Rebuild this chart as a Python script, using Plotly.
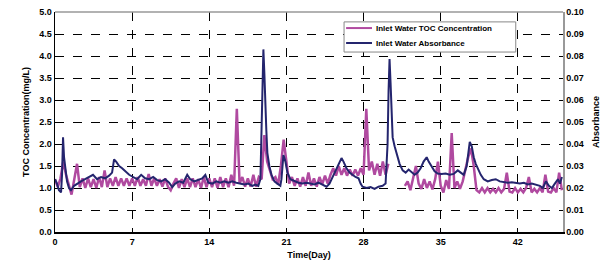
import plotly.graph_objects as go

# ---- Data ----
# Inlet water TOC concentration (mg/L), sampled every 0.25 day
toc_step_days = 0.25
toc_values = [
    1.20, 1.02, 1.22, 1.60,  1.30, 1.05, 0.85, 1.20,
    1.55, 1.02, 1.22, 1.00,  1.22, 1.02, 1.20, 1.00,
    1.25, 1.02, 1.40, 1.02,  1.22, 1.05, 1.25, 1.05,
    1.22, 1.05, 1.22, 1.05,  1.22, 1.05, 1.25, 1.05,
    1.20, 1.05, 1.32, 1.05,  1.22, 1.05, 1.20, 1.03,
    1.22, 1.03, 0.95, 1.10,  1.22, 1.00, 1.20, 1.02,
    1.22, 1.02, 1.22, 1.02,  1.20, 1.00, 1.25, 1.02,
    1.22, 1.02, 1.22, 1.00,  1.25, 1.02, 1.22, 1.02,
    1.30, 1.05, 2.80, 1.10,  1.25, 1.03, 1.22, 1.03,
    1.30, 1.03, 1.25, 1.20,  2.20, 1.60, 1.40, 1.20,
    1.25, 1.08, 1.50, 2.10,  1.60, 1.10, 1.25, 1.05,
    1.22, 1.03, 1.25, 1.05,  1.35, 1.05, 1.22, 1.03,
    1.25, 1.08, 1.28, 1.10,  1.30, 1.45, 1.28, 1.50,
    1.30, 1.45, 1.28, 1.42,  1.28, 1.42, 1.28, 1.45,
    1.30, 2.80, 1.40, 1.60,  1.30, 1.55, 1.28, 1.60,
    1.30, 1.55, None, None,  None, None, None, 1.05,
    1.15, 0.95, 1.20, 1.50,  1.10, 0.98, 1.20, 1.00,
    1.15, 0.97, 1.20, 1.60,  1.05, 0.90, 1.18, 0.98,
    2.25, 1.00, 1.15, 0.98,  1.15, 1.45, 1.70, 1.90,
    1.50, 0.95, 0.90, 1.00,  0.90, 1.00, 0.90, 0.98,
    0.90, 1.00, 0.90, 0.98,  1.35, 0.92, 0.90, 1.00,
    0.90, 0.98, 0.90, 1.00,  1.25, 0.90, 0.98, 0.90,
    1.00, 0.90, 1.30, 0.92,  0.90, 1.00, 0.90, 1.35,
    0.95,
]
toc_days = [i * toc_step_days for i in range(len(toc_values))]

# Inlet water absorbance
abs_days = [
    0.00, 0.18, 0.36, 0.55, 0.64, 0.73, 0.82, 0.91, 1.00, 1.09,
    1.27, 1.45, 1.73, 2.00, 2.36, 2.73, 3.09, 3.45, 3.82, 4.18,
    4.55, 4.91, 5.18, 5.36, 5.55, 5.82, 6.09, 6.36, 6.73, 7.09,
    7.45, 7.82, 8.18, 8.55, 8.91, 9.27, 9.64, 10.00, 10.36, 10.64,
    10.91, 11.27, 11.64, 12.00, 12.27, 12.64, 13.00, 13.36, 13.64, 13.91,
    14.27, 14.64, 15.00, 15.36, 15.73, 16.09, 16.45, 16.82, 17.18, 17.55,
    17.91, 18.18, 18.45, 18.64, 18.73, 18.82, 18.91, 19.00, 19.09, 19.18,
    19.27, 19.45, 19.64, 19.91, 20.18, 20.45, 20.55, 20.64, 20.73, 20.91,
    21.09, 21.36, 21.73, 22.09, 22.45, 22.82, 23.18, 23.55, 23.91, 24.27,
    24.64, 24.91, 25.18, 25.45, 25.73, 26.00, 26.18, 26.45, 26.73, 27.00,
    27.27, 27.55, 27.73, 27.91, 28.27, 28.64, 29.00, 29.36, 29.73, 30.00,
    30.18, 30.27, 30.36, 30.45, 30.55, 30.64, 30.82, 31.00, 31.27, 31.55,
    31.82, 32.09, 32.36, 32.64, 32.91, 33.18, 33.45, 33.73, 33.91, 34.27,
    34.45, 34.73, 35.09, 35.45, 35.82, 36.18, 36.55, 36.82, 37.09, 37.36,
    37.55, 37.64, 37.82, 38.00, 38.18, 38.36, 38.64, 38.91, 39.27, 39.64,
    40.00, 40.36, 40.73, 41.09, 41.45, 41.82, 42.18, 42.55, 42.91, 43.27,
    43.64, 44.00, 44.27, 44.55, 44.82, 45.09, 45.36, 45.64, 45.82, 46.00,
]
abs_values = [
    0.0240, 0.0220, 0.0190, 0.0180, 0.0260, 0.0430, 0.0340, 0.0300, 0.0260, 0.0230,
    0.0200, 0.0190, 0.0210, 0.0220, 0.0230, 0.0240, 0.0250, 0.0260, 0.0240, 0.0250,
    0.0244, 0.0256, 0.0270, 0.0330, 0.0320, 0.0300, 0.0290, 0.0276, 0.0260, 0.0250,
    0.0240, 0.0260, 0.0244, 0.0240, 0.0250, 0.0236, 0.0230, 0.0240, 0.0224, 0.0204,
    0.0220, 0.0230, 0.0224, 0.0260, 0.0240, 0.0230, 0.0236, 0.0244, 0.0260, 0.0224,
    0.0220, 0.0230, 0.0224, 0.0230, 0.0224, 0.0230, 0.0224, 0.0220, 0.0216, 0.0220,
    0.0210, 0.0216, 0.0210, 0.0240, 0.0400, 0.0600, 0.0830, 0.0720, 0.0560, 0.0460,
    0.0360, 0.0300, 0.0260, 0.0230, 0.0220, 0.0210, 0.0240, 0.0300, 0.0350, 0.0320,
    0.0270, 0.0240, 0.0230, 0.0224, 0.0220, 0.0224, 0.0220, 0.0216, 0.0224, 0.0216,
    0.0206, 0.0220, 0.0250, 0.0280, 0.0310, 0.0336, 0.0320, 0.0290, 0.0270, 0.0260,
    0.0250, 0.0244, 0.0220, 0.0206, 0.0200, 0.0204, 0.0196, 0.0206, 0.0210, 0.0220,
    0.0400, 0.0640, 0.0786, 0.0680, 0.0520, 0.0430, 0.0390, 0.0360, 0.0310, 0.0280,
    0.0270, 0.0284, 0.0270, 0.0260, 0.0270, 0.0290, 0.0320, 0.0340, 0.0320, 0.0290,
    0.0276, 0.0266, 0.0264, 0.0266, 0.0260, 0.0264, 0.0280, 0.0270, 0.0260, 0.0300,
    0.0360, 0.0410, 0.0390, 0.0340, 0.0310, 0.0290, 0.0260, 0.0240, 0.0230, 0.0236,
    0.0240, 0.0230, 0.0228, 0.0224, 0.0226, 0.0224, 0.0220, 0.0224, 0.0216, 0.0220,
    0.0214, 0.0210, 0.0200, 0.0230, 0.0210, 0.0200, 0.0220, 0.0240, 0.0220, 0.0250,
]

x_ticks = [0, 7, 14, 21, 28, 35, 42]
series_names = ["Inlet Water TOC Concentration", "Inlet Water Absorbance"]

TOC_COLOR = "#B04AA0"
ABS_COLOR = "#24256E"
FONT = "Liberation Sans"

fig = go.Figure()
fig.add_trace(go.Scatter(
    x=toc_days, y=toc_values, mode="lines", name=series_names[0],
    line=dict(color=TOC_COLOR, width=2.5), connectgaps=False, yaxis="y",
    showlegend=False,
))
fig.add_trace(go.Scatter(
    x=abs_days, y=abs_values, mode="lines", name=series_names[1],
    line=dict(color=ABS_COLOR, width=2), yaxis="y2",
    showlegend=False,
))

tickfont = dict(family=FONT, size=9, color="black", weight="bold")
titlefont = dict(family=FONT, size=9, color="black", weight="bold")
fig.update_layout(
    width=614, height=273,
    margin=dict(l=55, r=51, t=12, b=41, autoexpand=False),
    paper_bgcolor="white", plot_bgcolor="white",
    showlegend=False,
    xaxis=dict(
        range=[0, 46.1], tickvals=x_ticks, ticktext=[str(t) for t in x_ticks],
        showgrid=True, gridcolor="black", griddash="dash", gridwidth=1,
        showline=True, linecolor="black", linewidth=2, mirror=False,
        ticks="", tickfont=tickfont, zeroline=False, automargin=False,
        title=dict(text="Time(Day)", font=titlefont, standoff=6),
    ),
    yaxis=dict(
        range=[0, 5.0], dtick=0.5, tickformat=".1f",
        showgrid=True, gridcolor="black", griddash="dash", gridwidth=1,
        showline=True, linecolor="black", linewidth=1.5,
        ticks="", tickfont=tickfont, zeroline=False, automargin=False,
        title=dict(text="TOC Concentration(mg/L)", font=titlefont, standoff=8),
    ),
    yaxis2=dict(
        range=[0, 0.10], dtick=0.01, tickformat=".2f",
        overlaying="y", side="right", showgrid=False,
        showline=True, linecolor="#999999", linewidth=1.5,
        ticks="", tickfont=tickfont, zeroline=False, automargin=False,
        title=dict(text="Absorbance", font=titlefont, standoff=10),
    ),
)
# top border of the plot area
fig.add_shape(type="line", xref="paper", yref="paper", x0=0, x1=1, y0=1, y1=1,
              line=dict(color="#999999", width=1.5))

# legend box (drawn manually to match the compact original legend)
fig.add_shape(type="rect", xref="paper", yref="paper", x0=0.569, x1=0.907, y0=0.818, y1=0.955,
              line=dict(color="#888888", width=1), fillcolor="white", layer="above")
for name, color, ly in [(series_names[0], TOC_COLOR, 0.927), (series_names[1], ABS_COLOR, 0.859)]:
    fig.add_shape(type="line", xref="paper", yref="paper", x0=0.573, x1=0.624, y0=ly, y1=ly,
                  line=dict(color=color, width=2), layer="above")
    fig.add_annotation(x=0.628, y=ly, xref="paper", yref="paper", text=name, showarrow=False,
                       xanchor="left", yanchor="middle",
                       font=dict(family=FONT, size=8, color="black", weight="bold"))

fig.write_html(
    "out.html",
    config={"displayModeBar": False, "staticPlot": True},
    post_script="document.body.style.margin='0';document.body.style.padding='0';"
                "document.body.style.overflow='hidden';",
)
